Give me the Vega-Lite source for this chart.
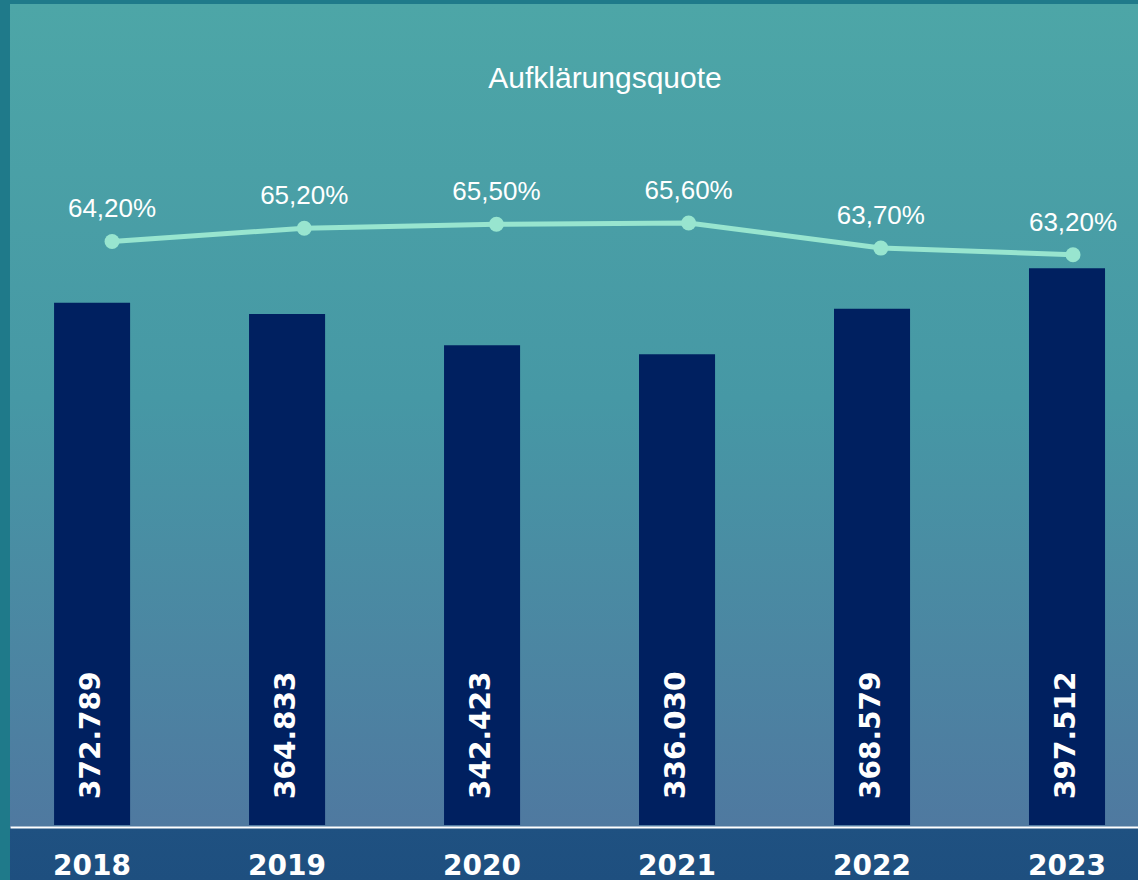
{
  "$schema": "https://vega.github.io/schema/vega-lite/v6.json",
  "width": 1128,
  "height": 876,
  "autosize": {"type": "none"},
  "padding": {"left": 10, "top": 4, "right": 0, "bottom": 0},
  "background": "#1f7a8a",
  "config": {"view": {"stroke": null}},
  "title": {
    "text": "Aufklärungsquote",
    "anchor": "middle",
    "frame": "group",
    "orient": "top",
    "offset": -114,
    "baseline": "alphabetic",
    "dx": 31,
    "font": "Liberation Sans",
    "fontSize": 30,
    "fontWeight": "normal",
    "color": "#ffffff"
  },
  "data": {
    "values": [
      {"year": "2018", "faelle": 372789, "faelleLabel": "372.789", "quote": 64.2, "quoteLabel": "64,20%"},
      {"year": "2019", "faelle": 364833, "faelleLabel": "364.833", "quote": 65.2, "quoteLabel": "65,20%"},
      {"year": "2020", "faelle": 342423, "faelleLabel": "342.423", "quote": 65.5, "quoteLabel": "65,50%"},
      {"year": "2021", "faelle": 336030, "faelleLabel": "336.030", "quote": 65.6, "quoteLabel": "65,60%"},
      {"year": "2022", "faelle": 368579, "faelleLabel": "368.579", "quote": 63.7, "quoteLabel": "63,70%"},
      {"year": "2023", "faelle": 397512, "faelleLabel": "397.512", "quote": 63.2, "quoteLabel": "63,20%"}
    ]
  },
  "layer": [
    {
      "data": {"values": [{"panel": "background"}]},
      "mark": {
        "type": "rect",
        "color": {
          "gradient": "linear",
          "x1": 0, "y1": 0, "x2": 0, "y2": 1,
          "stops": [
            {"offset": 0, "color": "#4da6a7"},
            {"offset": 0.45, "color": "#4698a5"},
            {"offset": 0.939, "color": "#4f79a0"},
            {"offset": 0.9395, "color": "#1f5181"},
            {"offset": 1, "color": "#1e4f7f"}
          ]
        }
      },
      "encoding": {}
    },
    {
      "layer": [
        {
          "mark": {"type": "bar", "color": "#002060"},
          "encoding": {
            "x": {
              "field": "year",
              "type": "nominal",
              "sort": null,
              "scale": {"paddingInner": 0.61, "paddingOuter": 0.1975, "align": 0.572},
              "axis": {
                "title": null,
                "orient": "bottom",
                "offset": -53,
                "zindex": 1,
                "domainColor": "#ffffff",
                "domainWidth": 2,
                "ticks": false,
                "tickSize": 0,
                "grid": false,
                "labelPadding": 47,
                "labelBaseline": "alphabetic",
                "labelAngle": 0,
                "labelColor": "#ffffff",
                "labelFont": "DejaVu Sans",
                "labelFontWeight": "bold",
                "labelFontSize": 28
              }
            },
            "y": {
              "field": "faelle",
              "type": "quantitative",
              "scale": {"domain": [-39263, 586094], "nice": false, "zero": false},
              "axis": null
            }
          }
        },
        {
          "mark": {
            "type": "text",
            "angle": 270,
            "align": "left",
            "baseline": "middle",
            "dx": 26,
            "color": "#ffffff",
            "font": "DejaVu Sans",
            "fontWeight": "bold",
            "fontSize": 28
          },
          "encoding": {
            "x": {"field": "year", "type": "nominal", "sort": null},
            "y": {"datum": 0, "type": "quantitative"},
            "text": {"field": "faelleLabel"}
          }
        }
      ]
    },
    {
      "layer": [
        {
          "mark": {
            "type": "line",
            "color": "#98e5cf",
            "strokeWidth": 5,
            "point": {"filled": true, "size": 225, "color": "#98e5cf", "opacity": 1}
          },
          "encoding": {
            "x": {
              "field": "year",
              "type": "nominal",
              "sort": null,
              "scale": {"type": "point", "padding": 0.4345, "align": 0.611},
              "axis": null
            },
            "y": {
              "field": "quote",
              "type": "quantitative",
              "scale": {"domain": [15.83, 82.19], "nice": false, "zero": false},
              "axis": null
            }
          }
        },
        {
          "mark": {
            "type": "text",
            "align": "center",
            "baseline": "alphabetic",
            "dy": -24,
            "color": "#ffffff",
            "font": "Liberation Sans",
            "fontSize": 26
          },
          "encoding": {
            "x": {"field": "year", "type": "nominal", "sort": null},
            "y": {"field": "quote", "type": "quantitative"},
            "text": {"field": "quoteLabel"}
          }
        }
      ]
    }
  ],
  "resolve": {"scale": {"x": "independent", "y": "independent"}}
}
